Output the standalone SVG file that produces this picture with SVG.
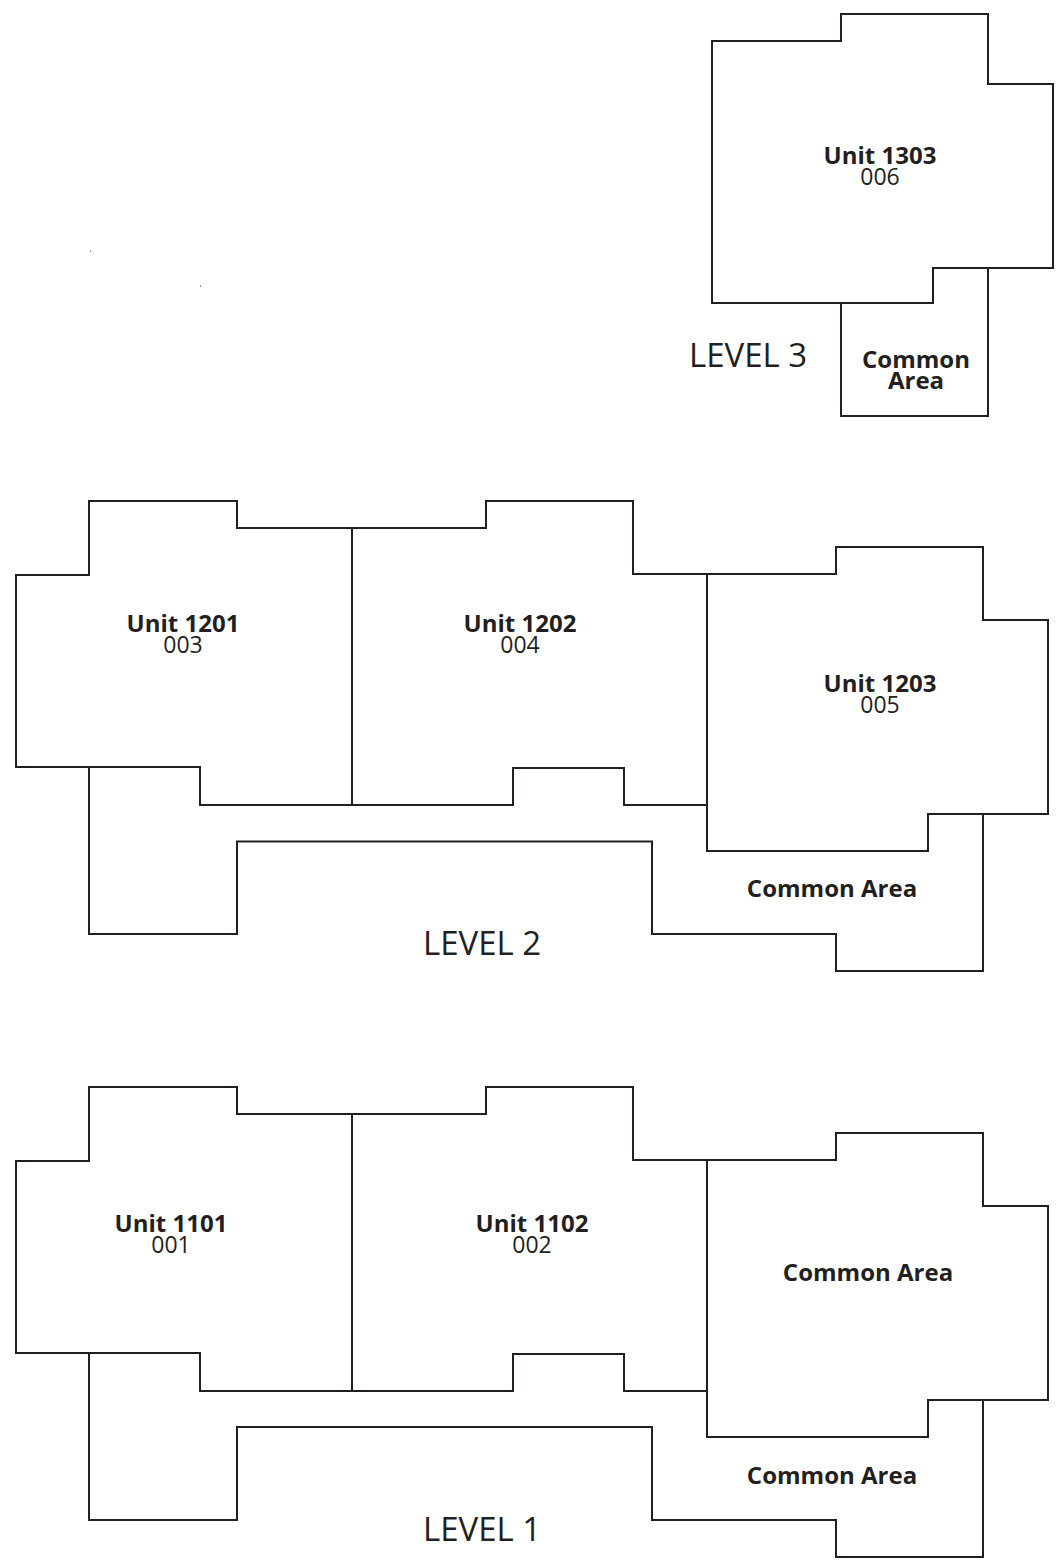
<svg xmlns="http://www.w3.org/2000/svg" width="1062" height="1563" viewBox="0 0 1062 1563">
<style>
.wall{fill:none;stroke:#231f20;stroke-width:2;stroke-linejoin:miter;stroke-linecap:square}
.nm{font-family:"Open Sans","Noto Sans",sans-serif;font-weight:bold;font-size:24px;fill:#231f20;text-anchor:middle}
.num{font-family:"Open Sans","Noto Sans",sans-serif;font-size:23px;fill:#231f20;text-anchor:middle}
.lvl{font-family:"Open Sans","Noto Sans",sans-serif;font-size:33px;fill:#231f20}
</style>
<rect width="1062" height="1563" fill="#fff"/>
<rect x="90" y="250" width="1" height="2" fill="#999"/>
<rect x="200" y="285" width="1" height="2" fill="#999"/>

<!-- LEVEL 3 -->
<g id="level3">
  <g id="unit1303">
    <path class="wall" d="M712,41 H841 V14 H988 V84 H1053 V268 H933 V303 H712 Z"/>
    <text class="nm" x="880" y="164">Unit 1303</text>
    <text class="num" x="880" y="185">006</text>
  </g>
  <g id="common3">
    <path class="wall" d="M841,303 V416 H988 V268"/>
    <text class="nm" x="916" y="368">Common</text>
    <text class="nm" x="916" y="389">Area</text>
  </g>
  <text class="lvl" x="689" y="367">LEVEL 3</text>
</g>

<!-- LEVEL 2 -->
<g id="level2">
  <g id="unit1201">
    <path class="wall" d="M16,575 H89 V501 H237 V528 H352 V805 H200 V767 H16 Z"/>
    <text class="nm" x="183" y="632">Unit 1201</text>
    <text class="num" x="183" y="653">003</text>
  </g>
  <g id="unit1202">
    <path class="wall" d="M352,528 H486 V501 H633 V574 H707 V805 H624 V768 H513 V805 H352 Z"/>
    <text class="nm" x="520" y="632">Unit 1202</text>
    <text class="num" x="520" y="653">004</text>
  </g>
  <g id="unit1203">
    <path class="wall" d="M707,574 H836 V547 H983 V620 H1048 V814 H928 V851 H707 Z"/>
    <text class="nm" x="880" y="692">Unit 1203</text>
    <text class="num" x="880" y="713">005</text>
  </g>
  <g id="common2">
    <path class="wall" d="M89,767 V934 H237 V841.5 H652 V934 H836 V971 H983 V814"/>
    <text class="nm" x="832" y="897">Common Area</text>
  </g>
  <text class="lvl" x="423" y="955">LEVEL 2</text>
</g>

<!-- LEVEL 1 -->
<g id="level1">
  <g id="unit1101">
    <path class="wall" d="M16,1161 H89 V1087 H237 V1114 H352 V1391 H200 V1353 H16 Z"/>
    <text class="nm" x="171" y="1232">Unit 1101</text>
    <text class="num" x="171" y="1253">001</text>
  </g>
  <g id="unit1102">
    <path class="wall" d="M352,1114 H486 V1087 H633 V1160 H707 V1391 H624 V1354 H513 V1391 H352 Z"/>
    <text class="nm" x="532" y="1232">Unit 1102</text>
    <text class="num" x="532" y="1253">002</text>
  </g>
  <g id="common1a">
    <path class="wall" d="M707,1160 H836 V1133 H983 V1206 H1048 V1400 H928 V1437 H707 Z"/>
    <text class="nm" x="868" y="1281">Common Area</text>
  </g>
  <g id="common1b">
    <path class="wall" d="M89,1353 V1520 H237 V1427 H652 V1520 H836 V1557 H983 V1400"/>
    <text class="nm" x="832" y="1484">Common Area</text>
  </g>
  <text class="lvl" x="423" y="1541">LEVEL 1</text>
</g>
</svg>
